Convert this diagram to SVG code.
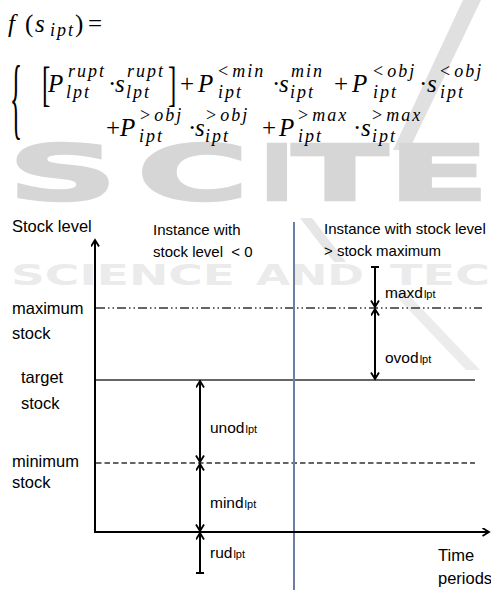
<svg xmlns="http://www.w3.org/2000/svg" width="491" height="590" viewBox="0 0 491 590">
<style>
.m{font-family:"Liberation Serif","Times New Roman",serif;font-style:italic;font-size:25px;fill:#000}
.u{font-family:"Liberation Serif","Times New Roman",serif;font-style:normal;font-size:25px;fill:#000}
.s{font-family:"Liberation Serif","Times New Roman",serif;font-style:italic;font-size:18px;letter-spacing:2px;fill:#000}
.su{font-style:normal}
.lab{font-family:"Liberation Sans",Arial,sans-serif;font-size:16.5px;fill:#000}
.inst{font-family:"Liberation Sans",Arial,sans-serif;font-size:15px;fill:#000}
.dl{font-family:"Liberation Sans",Arial,sans-serif;font-size:15.5px;fill:#000}
.sub{font-size:11px}
.wm{font-family:"DejaVu Sans",sans-serif;font-weight:bold;font-size:76px;fill:#d6d6d6;stroke:#d6d6d6;stroke-width:2.5}
.wm2{font-family:"DejaVu Sans",sans-serif;font-weight:bold;fill:#ebebeb}
.ax{stroke:#000;stroke-width:2;fill:none}
.lvl{stroke:#333;stroke-width:1.6;fill:none}
.arr{stroke:#000;stroke-width:2;fill:none}
</style>
<defs>
<marker id="open" markerUnits="userSpaceOnUse" markerWidth="10" markerHeight="10" refX="7" refY="4.5" orient="auto-start-reverse">
<path d="M0.5,0.5 L7,4.5 L0.5,8.5" fill="none" stroke="#000" stroke-width="1.8"/>
</marker>
</defs>
<rect width="491" height="590" fill="#fff"/>

<g id="watermark">
<polygon points="463,0 481,0 409,150 393,150" fill="#e0e0e0"/>
<text class="wm" transform="translate(8,200) scale(2,1)">S</text>
<text class="wm" transform="translate(137,200) scale(2,1)">C</text>
<text class="wm" transform="translate(260,200) scale(1.2,1)">I</text>
<text class="wm" transform="translate(292,200) scale(1.85,1)">T</text>
<text class="wm" transform="translate(388,200) scale(1.95,1)">E</text>
<polygon points="300,218 312,218 346,262 334,262" fill="#e6e6e6"/>
<polygon points="392,292 406,292 480,370 466,370" fill="#ececec"/>
<text class="wm2" x="11" y="285" font-size="29" textLength="224" lengthAdjust="spacingAndGlyphs">SCIENCE</text>
<text class="wm2" x="256" y="285" font-size="29" textLength="108" lengthAdjust="spacingAndGlyphs">AND</text>
<text class="wm2" x="390" y="285" font-size="29" textLength="100" lengthAdjust="spacingAndGlyphs">TEC</text>
</g>

<g id="formula">
<text class="m" x="8" y="32">f</text>
<text class="u" x="25" y="32">(</text>
<text class="m" x="35" y="32">s</text>
<text class="s" x="50" y="36">ipt</text>
<text class="u" x="75" y="32">)</text>
<text class="u" x="88" y="32">=</text>

<text class="u" transform="translate(10,128) scale(1,3.6)">{</text>

<text class="u" transform="translate(42,100) scale(1,1.95)">[</text>
<text class="m" x="48" y="92">P</text>
<text class="s" x="68" y="77">rupt</text>
<text class="s" x="66" y="98">lpt</text>
<text class="u" x="108" y="92">·</text>
<text class="m" x="115" y="92">s</text>
<text class="s" x="127" y="77">rupt</text>
<text class="s" x="126" y="98">lpt</text>
<text class="u" transform="translate(168,100) scale(1,1.95)">]</text>
<text class="u" x="180" y="92">+</text>
<text class="m" x="198" y="92">P</text>
<text class="s" x="218" y="77"><tspan class="su">&lt;</tspan><tspan dx="2">min</tspan></text>
<text class="s" x="218" y="98">ipt</text>
<text class="u" x="272" y="92">·</text>
<text class="m" x="279" y="92">s</text>
<text class="s" x="291" y="77">min</text>
<text class="s" x="290" y="98">ipt</text>
<text class="u" x="334" y="92">+</text>
<text class="m" x="352" y="92">P</text>
<text class="s" x="373" y="77"><tspan class="su">&lt;</tspan><tspan dx="2">obj</tspan></text>
<text class="s" x="373" y="98">ipt</text>
<text class="u" x="419" y="92">·</text>
<text class="m" x="427" y="92">s</text>
<text class="s" x="440" y="77"><tspan class="su">&lt;</tspan><tspan dx="2">obj</tspan></text>
<text class="s" x="440" y="98">ipt</text>

<text class="u" x="106" y="136">+</text>
<text class="m" x="120" y="136">P</text>
<text class="s" x="140" y="121"><tspan class="su">&gt;</tspan><tspan dx="2">obj</tspan></text>
<text class="s" x="139" y="142">ipt</text>
<text class="u" x="188" y="136">·</text>
<text class="m" x="195" y="136">s</text>
<text class="s" x="206" y="121"><tspan class="su">&gt;</tspan><tspan dx="2">obj</tspan></text>
<text class="s" x="205" y="142">ipt</text>
<text class="u" x="262" y="136">+</text>
<text class="m" x="279" y="136">P</text>
<text class="s" x="298" y="121"><tspan class="su">&gt;</tspan><tspan dx="2">max</tspan></text>
<text class="s" x="298" y="142">ipt</text>
<text class="u" x="353" y="136">·</text>
<text class="m" x="361" y="136">s</text>
<text class="s" x="372" y="121"><tspan class="su">&gt;</tspan><tspan dx="2">max</tspan></text>
<text class="s" x="372" y="142">ipt</text>
</g>

<g id="levels">
<line class="lvl" x1="96" y1="308" x2="482" y2="308" stroke-dasharray="9 3 1.5 3 1.5 3"/>
<line class="lvl" x1="96" y1="380" x2="475" y2="380"/>
<line class="lvl" x1="96" y1="463" x2="475" y2="463" stroke-dasharray="5.5 3"/>
</g>

<g id="divider">
<line x1="294" y1="222" x2="294" y2="590" stroke="#6b7fa0" stroke-width="2"/>
</g>

<g id="axes">
<line class="ax" x1="95" y1="532" x2="95" y2="240" marker-end="url(#open)"/>
<line class="ax" x1="94" y1="532" x2="489" y2="532" marker-end="url(#open)"/>
</g>

<g id="connectors">
<line class="arr" x1="375" y1="267" x2="375" y2="307" marker-end="url(#open)"/>
<line class="arr" x1="371" y1="267" x2="379" y2="267"/>
<line class="arr" x1="375" y1="309" x2="375" y2="379" marker-start="url(#open)" marker-end="url(#open)"/>
<line class="arr" x1="200" y1="381" x2="200" y2="462" marker-start="url(#open)" marker-end="url(#open)"/>
<line class="arr" x1="200" y1="464" x2="200" y2="531" marker-start="url(#open)" marker-end="url(#open)"/>
<line class="arr" x1="200" y1="573" x2="200" y2="533" marker-end="url(#open)"/>
<line class="arr" x1="196" y1="573" x2="204" y2="573"/>
</g>

<g id="labels">
<text class="lab" x="12" y="232">Stock level</text>
<text class="inst" x="153" y="235">Instance with</text>
<text class="inst" x="153" y="257" xml:space="preserve">stock level  &lt; 0</text>
<text class="inst" x="324" y="234">Instance with stock level</text>
<text class="inst" x="324" y="256">&gt; stock maximum</text>
<text class="lab" x="12" y="314" font-size="17">maximum</text>
<text class="lab" x="12" y="339">stock</text>
<text class="lab" x="21" y="383" font-size="17">target</text>
<text class="lab" x="21" y="409">stock</text>
<text class="lab" x="12" y="467" font-size="17">minimum</text>
<text class="lab" x="12" y="488">stock</text>
<text class="lab" x="438" y="561">Time</text>
<text class="lab" x="438" y="584">periods</text>
<text class="dl" x="385" y="298">maxd<tspan class="sub" dx="1">lpt</tspan></text>
<text class="dl" x="385" y="363">ovod<tspan class="sub" dx="1">lpt</tspan></text>
<text class="dl" x="210" y="433">unod<tspan class="sub" dx="1">lpt</tspan></text>
<text class="dl" x="210" y="508">mind<tspan class="sub" dx="1">lpt</tspan></text>
<text class="dl" x="210" y="558">rud<tspan class="sub" dx="1">lpt</tspan></text>
</g>
</svg>
